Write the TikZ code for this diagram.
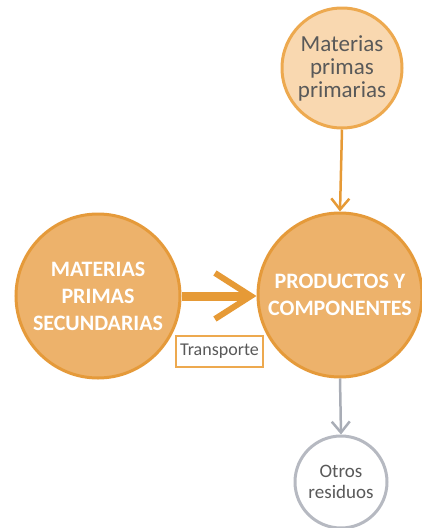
\documentclass[tikz,border=0pt]{standalone}
\usepackage{fontspec}
\setmainfont{Carlito}
\usetikzlibrary{arrows.meta}
\definecolor{bigfill}{HTML}{EDB26B}
\definecolor{bigdraw}{HTML}{E59A3A}
\definecolor{topfill}{HTML}{F9D8B0}
\definecolor{topdraw}{HTML}{EDA94F}
\definecolor{arroworange}{HTML}{E69A36}
\definecolor{greyline}{HTML}{A9ADB6}
\definecolor{greytext}{HTML}{595959}
\tikzset{
  bigcirc/.style={circle, fill=bigfill, draw=bigdraw, line width=3pt, minimum size=164pt, inner sep=0pt,
    text=white, font=\fontsize{22}{27}\selectfont\bfseries, align=center},
  topcirc/.style={circle, fill=topfill, draw=topdraw, line width=3pt, minimum size=120pt, inner sep=0pt,
    text=greytext, font=\fontsize{23}{23}\selectfont, align=center},
  botcirc/.style={circle, fill=white, draw=greyline!85!white, line width=3pt, minimum size=92pt, inner sep=0pt,
    text=greytext, font=\fontsize{19}{21}\selectfont, align=center},
  labelbox/.style={rectangle, fill=white, draw=topdraw, line width=1.3pt, minimum width=87pt, minimum height=31pt,
    inner sep=0pt, text=greytext, font=\fontsize{18}{18}\selectfont},
  thinarrow/.style={line width=2.5pt, -{Straight Barb[length=11pt,width=18pt,line width=2.5pt]}},
}
\begin{document}
\begin{tikzpicture}[x=1pt,y=-1pt]
\useasboundingbox (0,0) rectangle (421,528);
\node[topcirc] (mpp) at (342,68) {Materias\\primas\\primarias};
\node[bigcirc] (pc) at (340,295) {PRODUCTOS Y\\COMPONENTES};
\node[bigcirc] (mps) at (98,296) {MATERIAS\\PRIMAS\\SECUNDARIAS};
\node[botcirc] (or) at (341,482) {Otros\\residuos};
\node[labelbox] (tr) at (219.5,351.5) {Transporte};
\draw[thinarrow, draw=arroworange] (mpp.south) -- (pc.north);
\draw[thinarrow, draw=greyline] (pc.south) -- (or.north);
\draw[draw=arroworange, line width=9pt, -{Straight Barb[length=36pt,width=46pt,line width=6pt]}]
  (mps.east |- 0,296) -- (pc.west |- 0,296);
\end{tikzpicture}
\end{document}
